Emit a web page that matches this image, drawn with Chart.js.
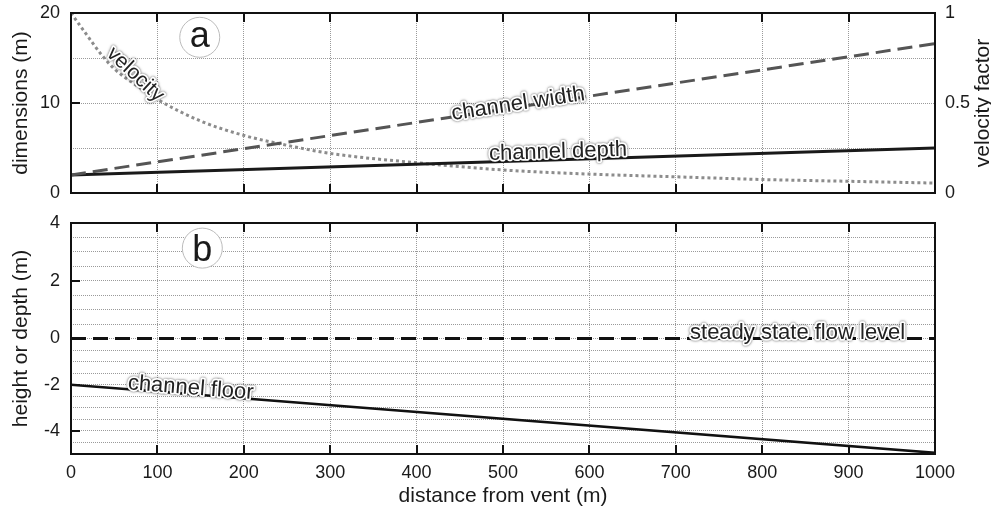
<!DOCTYPE html>
<html>
<head>
<meta charset="utf-8">
<script src="https://cdn.jsdelivr.net/npm/chart.js@4.4.0/dist/chart.umd.min.js"></script>
<style>
  html, body { margin: 0; padding: 0; background: #fff; }
  #wrap { position: relative; width: 991px; height: 510px; }
  #wrap canvas { position: absolute; left: 0; }
  #top { top: 0; }
  #bottom { top: 205px; }
</style>
</head>
<body>
<div id="wrap">
  <canvas id="top" width="991" height="205"></canvas>
  <canvas id="bottom" width="991" height="305"></canvas>
</div>
<script>
// distance from vent (m)
const DIST_LINEAR   = [0, 1000];
const DIST_VELOCITY = [0, 15, 35, 50, 75, 100, 150, 200, 250, 300, 400, 500, 600, 700, 800, 900, 1000];

// panel a: channel dimensions (m) and velocity factor
const CHANNEL_WIDTH = [2, 16.6];
const CHANNEL_DEPTH = [2, 5];
const VELOCITY      = [1.0, 0.9, 0.77, 0.69, 0.6, 0.52, 0.4, 0.32, 0.265, 0.22, 0.168, 0.128, 0.105, 0.09, 0.075, 0.065, 0.055];

// panel b: heights relative to the steady state flow surface (m)
const FLOW_LEVEL    = [0, 0];
const CHANNEL_FLOOR = [-2, -4.95];

// labelled ticks
const DIM_LABELS    = [0, 10, 20];
const VF_LABELS     = [0, 0.5, 1];
const HEIGHT_LABELS = [-4, -2, 0, 2, 4];

const FONT = '"Liberation Sans", Arial, Helvetica, sans-serif';
Chart.defaults.font.family = FONT;
Chart.defaults.color = '#1a1a1a';

const pts = (xs, ys) => xs.map((x, i) => ({ x, y: ys[i] }));

// linear axis that puts `split.value` at fraction `split.at` of its length
class SplitLinearScale extends Chart.LinearScale {
  _split() { return this.options.split || { value: 0, at: 0.5 }; }
  getPixelForValue(value) {
    if (value === null || value === undefined) return NaN;
    const { value: sv, at } = this._split();
    const dec = value >= sv
      ? at + (1 - at) * (value - sv) / (this.max - sv)
      : at * (value - this.min) / (sv - this.min);
    return this.getPixelForDecimal(dec);
  }
  getValueForPixel(pixel) {
    const d = this.getDecimalForPixel(pixel);
    const { value: sv, at } = this._split();
    return d >= at
      ? sv + (d - at) / (1 - at) * (this.max - sv)
      : this.min + d / at * (sv - this.min);
  }
}
SplitLinearScale.id = 'splitLinear';
SplitLinearScale.defaults = Chart.LinearScale.defaults;
Chart.register(SplitLinearScale);

// linear interpolation along a dataset, used to place the path labels
function valueAt(data, x) {
  for (let i = 1; i < data.length; i++) {
    if (x <= data[i].x) {
      const a = data[i - 1], b = data[i];
      return a.y + (b.y - a.y) * (x - a.x) / (b.x - a.x);
    }
  }
  return data[data.length - 1].y;
}

function drawPathLabel(chart, l) {
  const { ctx } = chart;
  const ds = chart.data.datasets[l.dataset];
  const xs = chart.scales.x, ys = chart.scales[ds.yAxisID || 'y'];
  const x0 = xs.getPixelForValue(l.x - 15), y0 = ys.getPixelForValue(valueAt(ds.data, l.x - 15));
  const x1 = xs.getPixelForValue(l.x + 15), y1 = ys.getPixelForValue(valueAt(ds.data, l.x + 15));
  const px = xs.getPixelForValue(l.x), py = ys.getPixelForValue(valueAt(ds.data, l.x));
  ctx.save();
  ctx.translate(px, py);
  ctx.rotate(Math.atan2(y1 - y0, x1 - x0) + (l.tilt || 0) * Math.PI / 180);
  ctx.translate(0, l.offset);
  ctx.font = `${l.size || 22}px ${FONT}`;
  ctx.textAlign = 'center';
  ctx.textBaseline = 'middle';
  ctx.lineJoin = 'round';
  ctx.shadowColor = 'rgba(0,0,0,0.7)';
  ctx.shadowBlur = 2.5;
  ctx.strokeStyle = '#fff';
  ctx.lineWidth = 3.5;
  ctx.strokeText(l.text, 0, 0);
  ctx.shadowColor = 'transparent';
  ctx.fillStyle = '#222';
  ctx.fillText(l.text, 0, 0);
  ctx.restore();
}

// frame, inward tick marks, panel letter and labels along the curves
function overlay(cfg) {
  return {
    id: 'overlay',
    afterDatasetsDraw(chart) {
      const { ctx, chartArea: ca, scales } = chart;
      ctx.save();
      ctx.strokeStyle = '#111';
      ctx.lineWidth = 2;
      const seg = (ax, ay, bx, by) => { ctx.beginPath(); ctx.moveTo(ax, ay); ctx.lineTo(bx, by); ctx.stroke(); };
      scales.x.ticks.forEach(t => {
        const px = Math.round(scales.x.getPixelForValue(t.value));
        if (px <= ca.left + 2 || px >= ca.right - 2) return;
        seg(px, ca.top, px, ca.top + 9);
        seg(px, ca.bottom, px, ca.bottom - 9);
      });
      cfg.yLabels.forEach(v => {
        const py = Math.round(scales.y.getPixelForValue(v));
        if (py <= ca.top + 2 || py >= ca.bottom - 2) return;
        seg(ca.left, py, ca.left + 9, py);
      });
      ctx.strokeRect(ca.left, ca.top, ca.width, ca.height);

      // panel letter in a circle
      const lx = scales.x.getPixelForValue(cfg.letter.x);
      const ly = scales.y.getPixelForValue(cfg.letter.y);
      ctx.beginPath();
      ctx.arc(lx, ly, 20, 0, Math.PI * 2);
      ctx.fillStyle = '#fff';
      ctx.fill();
      ctx.lineWidth = 1;
      ctx.strokeStyle = '#bbb';
      ctx.stroke();
      ctx.fillStyle = '#1a1a1a';
      ctx.font = `36px ${FONT}`;
      ctx.textAlign = 'center';
      ctx.textBaseline = 'alphabetic';
      ctx.fillText(cfg.letter.text, lx, ly + cfg.letter.base);

      if (cfg.rightTitle) {
        ctx.save();
        ctx.translate(983, (ca.top + ca.bottom) / 2);
        ctx.rotate(-Math.PI / 2);
        ctx.font = `21px ${FONT}`;
        ctx.textBaseline = 'middle';
        ctx.fillText(cfg.rightTitle, 0, 0);
        ctx.restore();
      }
      ctx.restore();
      cfg.labels.forEach(l => drawPathLabel(chart, l));
    }
  };
}

const gridStyle = { color: '#9a9a9a', lineWidth: 1, drawTicks: false };
// y axes keep the label gap as an invisible tick so the chart area is not padded by it
const yGridStyle = { color: '#9a9a9a', lineWidth: 1, drawTicks: true, tickLength: 11, tickColor: 'rgba(0,0,0,0)' };
const dotted = { display: false, dash: [1, 1] };
const tickFont = { size: 18 };
const titleFont = { size: 21 };

const xAxis = (showLabels, height) => ({
  type: 'linear', min: 0, max: 1000,
  grid: gridStyle, border: dotted,
  ticks: { stepSize: 100, display: showLabels, font: tickFont, padding: 8, autoSkip: false, maxRotation: 0,
           callback: v => String(v) },
  title: { display: showLabels, text: 'distance from vent (m)', font: titleFont, padding: { top: 4, bottom: 1 } },
  afterFit: s => { s.height = height; },
});

new Chart(document.getElementById('top'), {
  type: 'line',
  data: {
    datasets: [
      { label: 'channel width', data: pts(DIST_LINEAR, CHANNEL_WIDTH), yAxisID: 'y',
        borderColor: '#555', borderWidth: 3, borderDash: [15, 7] },
      { label: 'channel depth', data: pts(DIST_LINEAR, CHANNEL_DEPTH), yAxisID: 'y',
        borderColor: '#1a1a1a', borderWidth: 3 },
      { label: 'velocity', data: pts(DIST_VELOCITY, VELOCITY), yAxisID: 'y1',
        borderColor: '#8c8c8c', borderWidth: 3, borderDash: [3, 3], cubicInterpolationMode: 'monotone' },
    ],
  },
  options: {
    responsive: false, animation: false, devicePixelRatio: 1,
    layout: { padding: { top: 13, left: 0, right: 0, bottom: 0 } },
    elements: { point: { radius: 0 } },
    plugins: { legend: { display: false }, tooltip: { enabled: false } },
    scales: {
      x: xAxis(false, 12),
      y: {
        type: 'linear', position: 'left', min: 0, max: 20,
        grid: yGridStyle, border: dotted,
        ticks: { stepSize: 5, font: tickFont, padding: 0, autoSkip: false,
                 callback: v => DIM_LABELS.includes(v) ? String(v) : '' },
        title: { display: true, text: 'dimensions (m)', font: titleFont, padding: { top: 9, bottom: 0 } },
        afterFit: s => { s.width = 71; },
      },
      y1: {
        type: 'linear', position: 'right', min: 0, max: 1,
        grid: { display: false, drawTicks: true, tickLength: 10, tickColor: 'rgba(0,0,0,0)' },
        border: { display: false },
        ticks: { stepSize: 0.5, font: tickFont, padding: 0, autoSkip: false,
                 callback: v => VF_LABELS.includes(v) ? String(v) : '' },
        afterFit: s => { s.width = 56; },
      },
    },
  },
  plugins: [overlay({
    yLabels: DIM_LABELS,
    letter: { text: 'a', x: 149, y: 17.3, base: 10 },
    rightTitle: 'velocity factor',
    labels: [
      { text: 'velocity', dataset: 2, x: 68, offset: -8, size: 21, tilt: 7 },
      { text: 'channel width', dataset: 0, x: 518, offset: -3 },
      { text: 'channel depth', dataset: 1, x: 564, offset: -8 },
    ],
  })],
});

new Chart(document.getElementById('bottom'), {
  type: 'line',
  data: {
    datasets: [
      { label: 'steady state flow level', data: pts(DIST_LINEAR, FLOW_LEVEL),
        borderColor: '#111', borderWidth: 3, borderDash: [15, 7] },
      { label: 'channel floor', data: pts(DIST_LINEAR, CHANNEL_FLOOR),
        borderColor: '#111', borderWidth: 2.5 },
    ],
  },
  options: {
    responsive: false, animation: false, devicePixelRatio: 1,
    layout: { padding: { top: 18, left: 0, right: 56, bottom: 0 } },
    elements: { point: { radius: 0 } },
    plugins: { legend: { display: false }, tooltip: { enabled: false } },
    scales: {
      x: xAxis(true, 56),
      y: {
        type: 'splitLinear', position: 'left', min: -5, max: 4,
        split: { value: 0, at: 0.5 },
        grid: yGridStyle, border: dotted,
        ticks: { stepSize: 0.5, font: tickFont, padding: 0, autoSkip: false,
                 callback: v => HEIGHT_LABELS.includes(v) ? String(v) : '' },
        title: { display: true, text: 'height or depth (m)', font: titleFont, padding: { top: 9, bottom: 0 } },
        afterFit: s => { s.width = 71; },
      },
    },
  },
  plugins: [overlay({
    yLabels: HEIGHT_LABELS,
    letter: { text: 'b', x: 152, y: 3.13, base: 13 },
    labels: [
      { text: 'steady state flow level', dataset: 0, x: 841, offset: -6 },
      { text: 'channel floor', dataset: 1, x: 138, offset: -6 },
    ],
  })],
});
</script>
</body>
</html>
